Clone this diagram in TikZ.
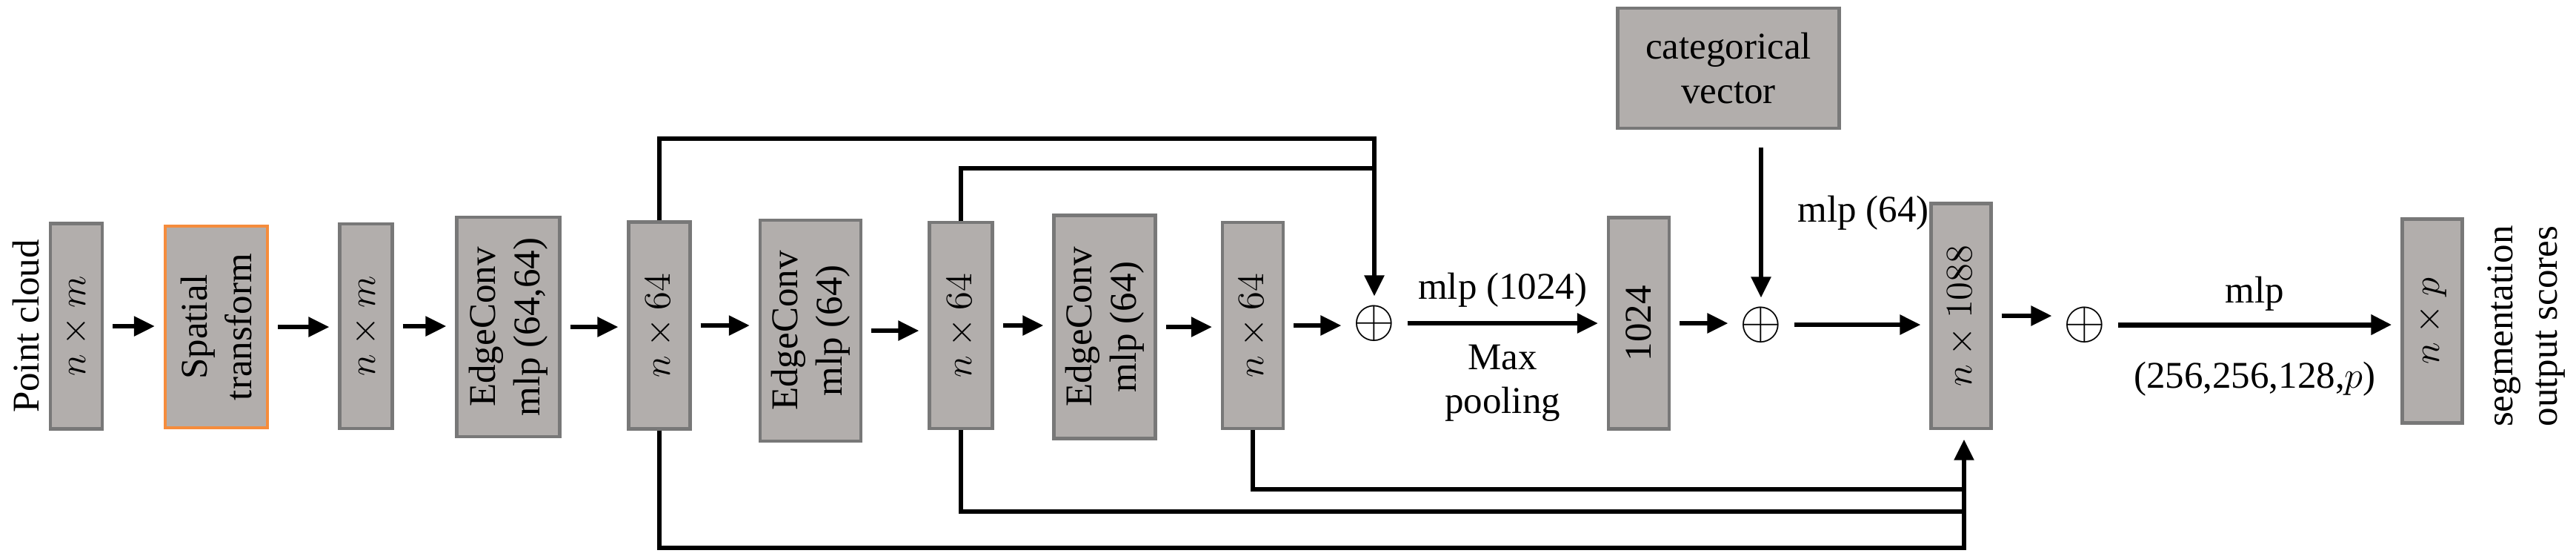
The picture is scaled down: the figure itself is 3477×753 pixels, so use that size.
\documentclass[tikz,border=0pt]{standalone}
\usepackage{fontspec}
\setmainfont{Liberation Serif}
\usetikzlibrary{arrows.meta}
\definecolor{boxfill}{RGB}{178,174,172}
\definecolor{boxdraw}{RGB}{120,120,120}
\definecolor{orng}{RGB}{245,140,60}
\begin{document}
\begin{tikzpicture}[x=0.01cm,y=-0.01cm,
  font=\fontsize{14.5}{17}\selectfont,
  box/.style={draw=boxdraw,line width=1.2pt,fill=boxfill,inner sep=0pt,align=center},
  lbl/.style={rotate=90,align=center},
  ln/.style={line width=1.6pt},
  arr/.style={ln,-{Triangle[length=0.28cm,width=0.26cm]}},
  plus/.style={inner sep=1pt,font=\fontsize{22}{24}\selectfont},
  sh/.style={shorten <=0.12cm,shorten >=0.12cm}]
\useasboundingbox (0,0) rectangle (3477,753);
% boxes
\node[box,minimum width=0.70cm,minimum height=2.77cm] (b1) at (103,440) {};
\node[lbl] at (b1) {$n\times m$};
\node[box,draw=orng,minimum width=1.38cm,minimum height=2.72cm] (st) at (292,441) {};
\node[lbl] at (st) {Spatial\\transform};
\node[box,minimum width=0.71cm,minimum height=2.76cm] (b3) at (494,440) {};
\node[lbl] at (b3) {$n\times m$};
\node[box,minimum width=1.39cm,minimum height=2.96cm] (e1) at (686,441) {};
\node[lbl] at (e1) {EdgeConv\\mlp (64,64)};
\node[box,minimum width=0.83cm,minimum height=2.79cm] (b5) at (890,439) {};
\node[lbl] at (b5) {$n\times 64$};
\node[box,minimum width=1.36cm,minimum height=2.98cm] (e2) at (1094,446) {};
\node[lbl] at (e2) {EdgeConv\\mlp (64)};
\node[box,minimum width=0.85cm,minimum height=2.78cm] (b7) at (1297,439) {};
\node[lbl] at (b7) {$n\times 64$};
\node[box,minimum width=1.37cm,minimum height=3.01cm] (e3) at (1491,441) {};
\node[lbl] at (e3) {EdgeConv\\mlp (64)};
\node[box,minimum width=0.82cm,minimum height=2.78cm] (b9) at (1691,439) {};
\node[lbl] at (b9) {$n\times 64$};
\node[plus] (p1) at (1855,436) {$\oplus$};
\node[box,minimum width=0.82cm,minimum height=2.85cm] (b10) at (2212,436) {};
\node[lbl] at (b10) {1024};
\node[plus] (p2) at (2377,438) {$\oplus$};
\node[box,minimum width=2.99cm,minimum height=1.62cm] (cat) at (2333,92) {categorical\\vector};
\node[box,minimum width=0.81cm,minimum height=3.03cm] (b11) at (2647,426) {};
\node[lbl] at (b11) {$n\times 1088$};
\node[plus] (p3) at (2814,438) {$\oplus$};
\node[box,minimum width=0.81cm,minimum height=2.75cm] (bp) at (3283,433) {};
\node[lbl] at (bp) {$n\times p$};
\node[lbl] (pc) at (35,440) {Point cloud};
\node[lbl] (so) at (3410,440) {segmentation\\output scores};
% main arrows
\draw[arr,sh] (b1.east) -- (b1.east -| st.west);
\draw[arr,sh] (st.east) -- (st.east -| b3.west);
\draw[arr,sh] (b3.east) -- (b3.east -| e1.west);
\draw[arr,sh] (e1.east) -- (e1.east -| b5.west);
\draw[arr,sh] (b5.east) -- (b5.east -| e2.west);
\draw[arr,sh] (e2.east) -- (e2.east -| b7.west);
\draw[arr,sh] (b7.east) -- (b7.east -| e3.west);
\draw[arr,sh] (e3.east) -- (e3.east -| b9.west);
\draw[arr,sh] (b9.east) -- (b9.east -| p1.west);
\draw[arr,sh] (p1.east) -- node[above=2pt]{mlp (1024)} node[below=4pt,align=center]{Max\\pooling} (p1.east -| b10.west);
\draw[arr,sh] (b10.east) -- (b10.east -| p2.west);
\draw[arr,sh] (p2.east) -- (p2.east -| b11.west);
\draw[arr,sh] (b11.east) -- (b11.east -| p3.west);
\draw[arr,sh,line width=2pt] (p3.east) -- node[above=1pt]{mlp} node[below=10pt]{(256,256,128,$p$)} (p3.east -| bp.west);
% categorical
\coordinate (cs) at (2377,199);
\draw[arr,shorten >=0.08cm] (cs) -- node[right=10pt,pos=0.42]{mlp (64)} (p2.north);
% top skips
\coordinate (t1) at (890,187);
\coordinate (t1r) at (1855,187);
\coordinate (t2) at (1297,227);
\coordinate (t2r) at (1855,227);
\draw[arr,shorten >=0.08cm] (b5.north) -- (t1) -- (t1r) -- (p1.north);
\draw[ln] (b7.north) -- (t2) -- (t2r);
% bottom skips
\coordinate (u1) at (890,739);
\coordinate (u1r) at (2651,739);
\coordinate (u2) at (1297,690);
\coordinate (u2r) at (2651,690);
\coordinate (u3) at (1691,660);
\coordinate (u3r) at (2651,660);
\draw[arr,shorten >=0.13cm] (b5.south) -- (u1) -- (u1r) -- (b11.south -| u1r);
\draw[ln] (b7.south) -- (u2) -- (u2r);
\draw[ln] (b9.south) -- (u3) -- (u3r);
\end{tikzpicture}
\end{document}
